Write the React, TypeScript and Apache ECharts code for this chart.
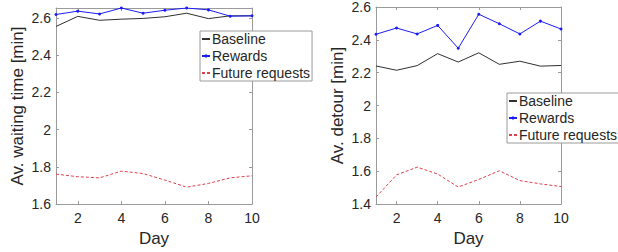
import React, { useEffect, useRef } from 'react';
import * as echarts from 'echarts';

const days = [1, 2, 3, 4, 5, 6, 7, 8, 9, 10];
const waitBaseline = [2.554, 2.608, 2.587, 2.593, 2.597, 2.606, 2.625, 2.596, 2.611, 2.611];
const waitRewards = [2.618, 2.636, 2.621, 2.653, 2.625, 2.641, 2.653, 2.643, 2.609, 2.611];
const waitFuture = [1.761, 1.747, 1.741, 1.777, 1.764, 1.729, 1.691, 1.711, 1.741, 1.752];
const detourBaseline = [2.241, 2.215, 2.243, 2.316, 2.265, 2.321, 2.251, 2.27, 2.24, 2.244];
const detourRewards = [2.434, 2.472, 2.436, 2.488, 2.349, 2.556, 2.498, 2.436, 2.514, 2.466];
const detourFuture = [1.443, 1.578, 1.625, 1.583, 1.504, 1.55, 1.603, 1.543, 1.523, 1.507];
const xTicks = [2, 4, 6, 8, 10];
const waitTicks = [1.6, 1.8, 2, 2.2, 2.4, 2.6];
const detourTicks = [1.4, 1.6, 1.8, 2, 2.2, 2.4, 2.6];
const seriesNames = ['Baseline', 'Rewards', 'Future requests'];

const FONT = 'Liberation Sans, Arial, sans-serif';
const TEXT = '#262626';
const BOX = '#9a9a9a';

function App() {
  const ref = useRef<HTMLDivElement>(null);
  useEffect(() => {
    if (!ref.current) return;
    const chart = echarts.init(ref.current, undefined, { renderer: 'svg' });

    const xAx = (grid: number, pos: 'bottom' | 'top', label: boolean) => ({
      type: 'value',
      gridIndex: grid,
      position: pos,
      min: 1,
      max: 10,
      name: label ? 'Day' : '',
      nameLocation: 'middle',
      nameGap: 25,
      nameTextStyle: { fontSize: 17, color: TEXT, fontFamily: FONT },
      axisLine: { show: true, onZero: false, lineStyle: { color: BOX, width: 1 } },
      axisTick: { show: true, inside: true, length: 3, customValues: xTicks, lineStyle: { color: BOX } },
      axisLabel: { show: label, customValues: xTicks, fontSize: 14, color: TEXT, fontFamily: FONT, margin: 7 },
      splitLine: { show: false },
    });
    const yAx = (grid: number, pos: 'left' | 'right', label: boolean, min: number, max: number, ticks: number[], name: string, gap: number) => ({
      type: 'value',
      gridIndex: grid,
      position: pos,
      min,
      max,
      name: label ? name : '',
      nameLocation: 'middle',
      nameGap: gap,
      nameTextStyle: { fontSize: 17, color: TEXT, fontFamily: FONT },
      axisLine: { show: true, onZero: false, lineStyle: { color: BOX, width: 1 } },
      axisTick: { show: true, inside: true, length: 3, customValues: ticks, lineStyle: { color: BOX } },
      axisLabel: { show: label, customValues: ticks, fontSize: 14, color: TEXT, fontFamily: FONT, margin: 5 },
      splitLine: { show: false },
    });

    const pts = (vals: number[]) => days.map((d, i) => [d, vals[i]]);
    const mk = (kind: number, vals: number[], xi: number, yi: number) => {
      const base: any = {
        type: 'line',
        name: seriesNames[kind],
        xAxisIndex: xi,
        yAxisIndex: yi,
        data: pts(vals),
        silent: true,
      };
      if (kind === 0) {
        return { ...base, symbol: 'none', color: '#303030', lineStyle: { color: '#303030', width: 1 } };
      }
      if (kind === 1) {
        return { ...base, symbol: 'circle', symbolSize: 3, color: '#1c1cf5', lineStyle: { color: '#1c1cf5', width: 1 }, itemStyle: { color: '#1c1cf5' } };
      }
      return { ...base, symbol: 'none', color: '#e0404a', lineStyle: { color: '#e0404a', width: 1, type: [3, 2] } };
    };

    const legend = (left: number, top: number) => ({
      orient: 'vertical',
      left,
      top,
      data: [
        { name: seriesNames[0], itemStyle: { opacity: 0 } },
        { name: seriesNames[1] },
        { name: seriesNames[2], itemStyle: { opacity: 0 } },
      ],
      itemWidth: 8,
      itemHeight: 4,
      itemGap: 3,
      padding: [1, 2, 1, 1],
      borderColor: BOX,
      borderWidth: 1,
      backgroundColor: '#ffffff',
      selectedMode: false,
      textStyle: { fontSize: 14, color: TEXT, fontFamily: FONT, padding: [0, 0, 0, -3] },
    });

    chart.setOption({
      animation: false,
      backgroundColor: '#ffffff',
      grid: [
        { left: 56, top: 8, width: 196, height: 198 },
        { left: 376, top: 7, width: 185, height: 200 },
      ],
      xAxis: [xAx(0, 'bottom', true), xAx(0, 'top', false), xAx(1, 'bottom', true), xAx(1, 'top', false)],
      yAxis: [
        yAx(0, 'left', true, 1.6, 2.653, waitTicks, 'Av. waiting time [min]', 30),
        yAx(0, 'right', false, 1.6, 2.653, waitTicks, '', 0),
        yAx(1, 'left', true, 1.4, 2.6, detourTicks, 'Av. detour [min]', 30),
        yAx(1, 'right', false, 1.4, 2.6, detourTicks, '', 0),
      ],
      legend: [legend(200, 31), legend(507, 93)],
      series: [
        mk(0, waitBaseline, 0, 0),
        mk(1, waitRewards, 0, 0),
        mk(2, waitFuture, 0, 0),
        mk(0, detourBaseline, 2, 2),
        mk(1, detourRewards, 2, 2),
        mk(2, detourFuture, 2, 2),
      ],
    });
    return () => chart.dispose();
  }, []);
  return <div ref={ref} style={{ position: 'fixed', left: 0, top: 0, width: 618, height: 252, background: '#fff' }} />;
}

export default App;
